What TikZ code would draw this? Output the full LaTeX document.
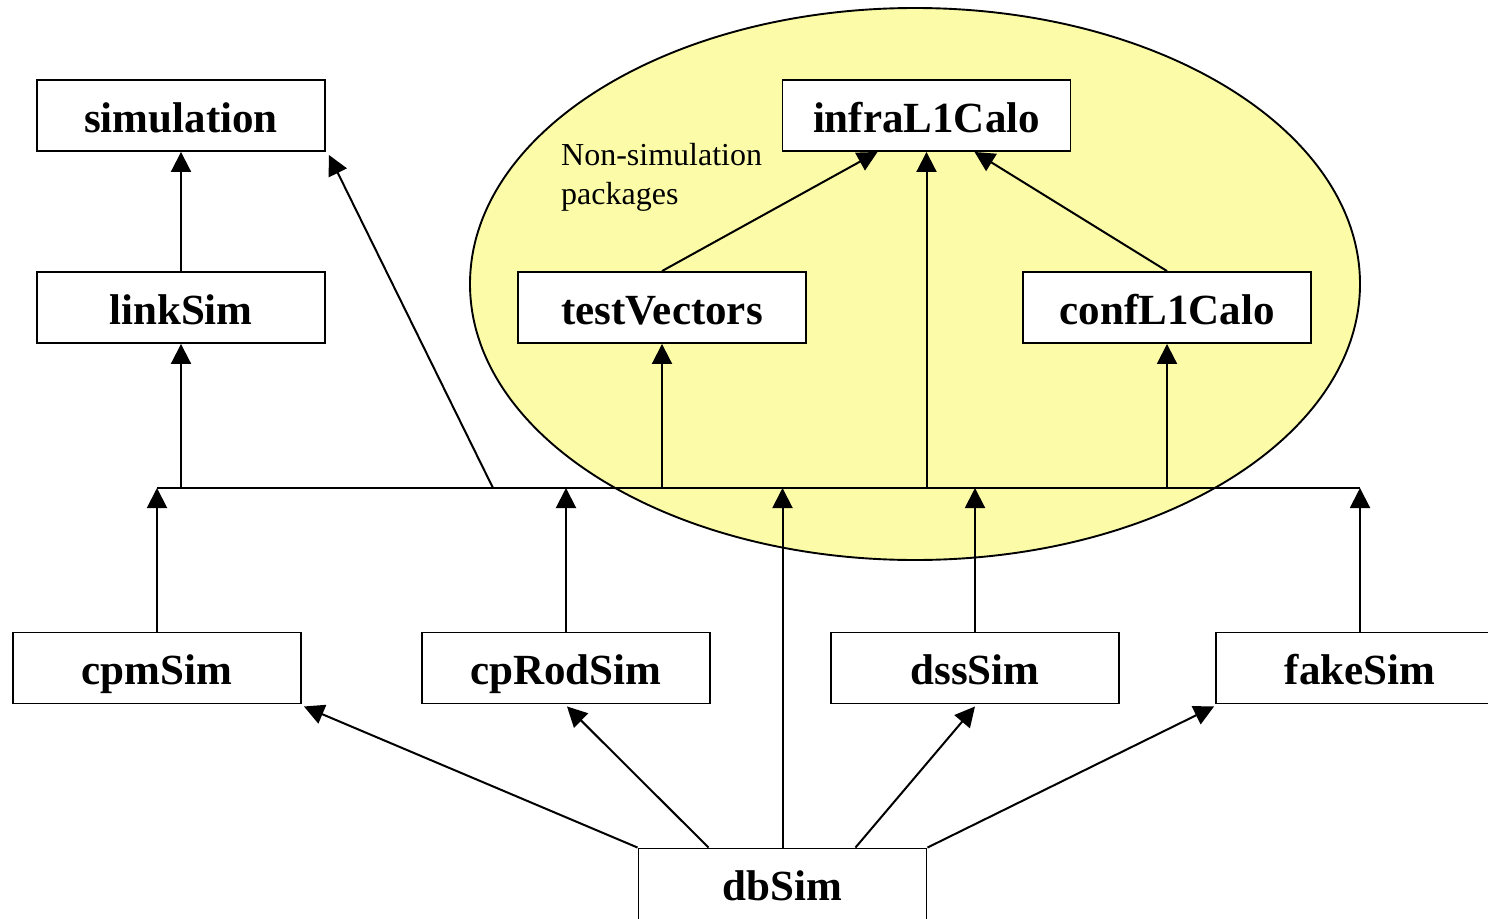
\documentclass[tikz,border=0pt]{standalone}
\usepackage{fontspec}
\setmainfont{Liberation Serif}
\usetikzlibrary{arrows.meta,calc}
\definecolor{ellfill}{RGB}{252,252,168}
\tikzset{
  pkg/.style={draw=black, line width=1.9pt, fill=white, minimum width=288pt, minimum height=71pt, inner sep=0pt, text height=36pt, text depth=3pt, font=\fontsize{43}{50}\selectfont\bfseries},
  arr/.style={line width=2pt, -{Triangle[length=20pt,width=20pt]}},
  ln/.style={line width=2pt}
}
\begin{document}
\begin{tikzpicture}[x=1pt,y=-1pt]
\useasboundingbox (0,0) rectangle (1488,918);
% ellipse
\draw[line width=1.9pt, fill=ellfill] (915,284) ellipse [x radius=445, y radius=276];
\node[anchor=north west, align=left, inner sep=0pt, font=\fontsize{32}{39}\selectfont] (lbl) at (561,143) {Non-simulation\\packages};
% bus
\coordinate (bL) at (157,488);
\coordinate (bR) at (1360,488);
\coordinate (bS) at (493,488);
\draw[ln] (bL) -- (bR);
% nodes
\node[pkg] (sim) at (181,115.5) {simulation};
\node[pkg] (link) at (181,307.5) {linkSim};
\node[pkg] (infra) at (926.5,115.5) {infraL1Calo};
\node[pkg] (test) at (662,307.5) {testVectors};
\node[pkg] (conf) at (1167,307.5) {confL1Calo};
\node[pkg] (cpm) at (157,668) {cpmSim};
\node[pkg] (cprod) at (566,668) {cpRodSim};
\node[pkg] (dss) at (975,668) {dssSim};
\node[pkg] (fake) at (1360,668) {fakeSim};
\node[pkg] (db) at (782.5,884) {dbSim};
% upper connectors
\draw[arr] (link.north) -- (sim.south);
\draw[arr] (link.south |- bL) -- (link.south);
\draw[arr] (bS) -- ($(sim.south east)+(3,3)$);
\draw[arr] (test.south |- bL) -- (test.south);
\draw[arr] (infra.south |- bL) -- (infra.south);
\draw[arr] (conf.south |- bL) -- (conf.south);
\draw[arr] (test.north) -- ($(infra.south)+(-49,0)$);
\draw[arr] (conf.north) -- ($(infra.south)+(48,0)$);
% lower connectors to bus
\draw[arr] (cpm.north) -- (cpm.north |- bL);
\draw[arr] (cprod.north) -- (cprod.north |- bL);
\draw[arr] (db.north) -- (db.north |- bL);
\draw[arr] (dss.north) -- (dss.north |- bL);
\draw[arr] (fake.north) -- (fake.north |- bL);
% dbSim fan
\draw[arr] (db.north west) -- ($(cpm.south east)+(2,2)$);
\draw[arr] ($(db.north west)+(71,0)$) -- ($(cprod.south)+(1,2)$);
\draw[arr] ($(db.north east)+(-72,0)$) -- ($(dss.south)+(0,2)$);
\draw[arr] (db.north east) -- ($(fake.south west)+(-1,2)$);
\end{tikzpicture}
\end{document}
